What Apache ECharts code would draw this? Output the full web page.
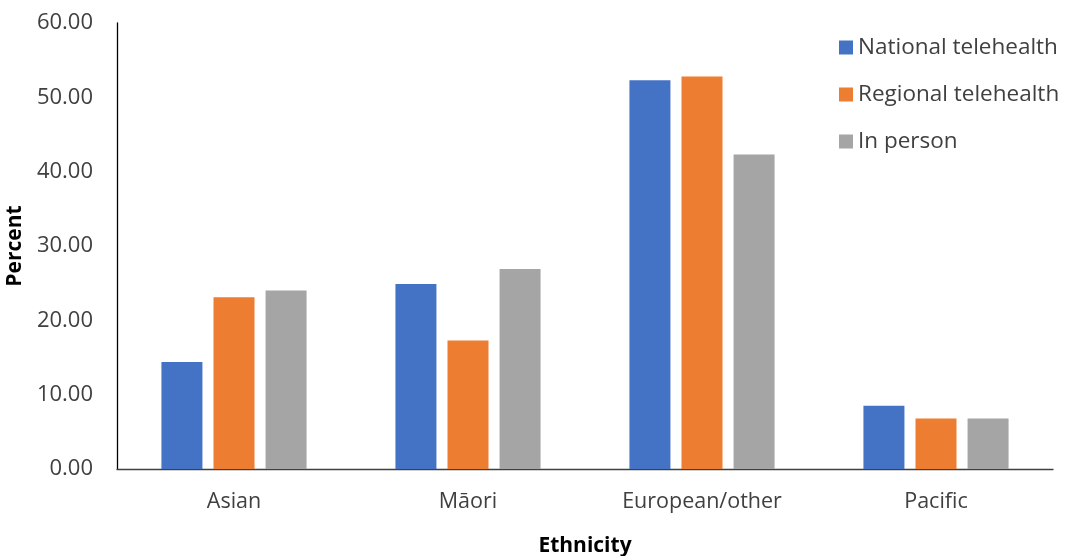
<!DOCTYPE html>
<html><head><meta charset="utf-8">
<script src="https://cdn.jsdelivr.net/npm/echarts@6/dist/echarts.min.js"></script>
<style>html,body{margin:0;padding:0;background:#fff}#c{width:1070px;height:556px}</style>
</head><body><div id="c"></div>
<script>
const categories = ['Asian', 'Māori', 'European/other', 'Pacific'];
const seriesNames = ['National telehealth', 'Regional telehealth', 'In person'];
const national = [14.4, 24.9, 52.3, 8.5];
const regional = [23.1, 17.3, 52.8, 6.8];
const inPerson = [24.0, 26.9, 42.3, 6.8];
const colors = ['#4472c4', '#ed7d31', '#a5a5a5'];
const font = '"Open Sans", "Noto Sans", sans-serif';

const chart = echarts.init(document.getElementById('c'));
const dataSets = [national, regional, inPerson];
chart.setOption({
  animation: false,
  color: colors,
  textStyle: { fontFamily: font },
  grid: { left: 117, right: 17, top: 23, bottom: 87, containLabel: false, outerBoundsMode: 'none' },
  legend: {
    orient: 'vertical', left: 834, top: 31, itemWidth: 14, itemHeight: 14, itemGap: 24,
    icon: 'rect',
    textStyle: { fontSize: 22.5, color: '#404040', fontFamily: font, padding: [0, 0, 0, 0] },
    data: seriesNames
  },
  xAxis: {
    type: 'category', data: categories,
    name: 'Ethnicity', nameLocation: 'middle', nameGap: 67,
    nameTextStyle: { fontSize: 21, fontWeight: 'bold', color: '#000', fontFamily: font },
    axisLine: { lineStyle: { color: '#404040', width: 1.3 } },
    axisTick: { show: false },
    axisLabel: { fontSize: 21.5, color: '#404040', margin: 22, fontFamily: font }
  },
  yAxis: {
    type: 'value', min: 0, max: 60, interval: 10,
    name: 'Percent', nameLocation: 'middle', nameGap: 79, nameRotate: 90,
    nameTextStyle: { fontSize: 21, fontWeight: 'bold', color: '#000', fontFamily: font },
    axisLine: { show: true, lineStyle: { color: '#000', width: 1.3 } },
    axisTick: { show: false },
    splitLine: { show: false },
    axisLabel: { fontSize: 22, color: '#404040', margin: 24, fontFamily: font,
      formatter: v => v.toFixed(2) }
  },
  series: dataSets.map((d, i) => ({
    name: seriesNames[i], type: 'bar', data: d,
    barWidth: 41, barGap: '27%', barCategoryGap: '40%'
  }))
});
</script></body></html>
